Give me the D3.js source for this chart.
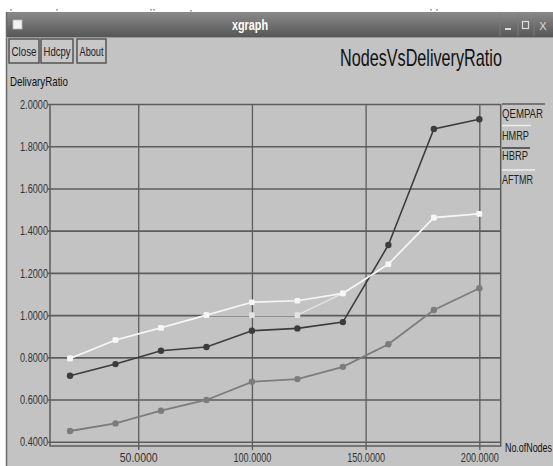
<!DOCTYPE html>
<html>
<head>
<meta charset="utf-8">
<script src="https://cdn.jsdelivr.net/npm/d3@7"></script>
<style>
  html, body { margin: 0; padding: 0; background: #ffffff; }
  svg { display: block; }
  text { font-family: "Liberation Sans", Arial, sans-serif; }
</style>
</head>
<body>
<svg id="chart" width="553" height="466"></svg>
<script>
// Number of nodes on the x axis
const nodes = [20, 40, 60, 80, 100, 120, 140, 160, 180, 200];

// Delivery ratio per protocol
const qempar = [0.451, 0.487, 0.547, 0.598, 0.684, 0.697, 0.755, 0.862, 1.024, 1.127];
const hmrp   = [0.795, 0.882, 0.940, 1.000, 1.061, 1.068, 1.103, 1.241, 1.462, 1.480];
const hbrp   = [0.713, 0.768, 0.831, 0.849, 0.926, 0.937, 0.967, 1.332, 1.882, 1.928];
const aftmr  = [0.795, 0.882, 0.940, 1.000, 1.000, 1.000, 1.103, 1.241, 1.462, 1.480];

const seriesNames = ["QEMPAR", "HMRP", "HBRP", "AFTMR"];
const yTicks = [0.4, 0.6, 0.8, 1.0, 1.2, 1.4, 1.6, 1.8, 2.0];
const xTicks = [50, 100, 150, 200];

const svg = d3.select("#chart");
const W = 553, H = 466;

// Draws a horizontally condensed label: the text is squeezed to the given width
// with a scale transform around its anchor point.
function narrowText(parent, str, px, py, size, width, opts = {}) {
  const t = parent.append("text")
    .attr("x", 0).attr("y", 0)
    .attr("font-size", size)
    .attr("fill", opts.fill || "#111111")
    .attr("text-anchor", opts.anchor || "start")
    .attr("font-weight", opts.weight || "normal")
    .text(str);
  const natural = t.node().getComputedTextLength();
  const k = natural > 0 ? width / natural : 1;
  t.attr("transform", `translate(${px},${py}) scale(${k},1)`);
  return t;
}

// squeeze the existing tick labels of an axis group to a given width
function narrowTicks(g, width) {
  g.selectAll(".tick text").each(function () {
    const t = d3.select(this);
    const natural = this.getComputedTextLength();
    const k = width / natural;
    const tx = +t.attr("x") || 0;
    t.attr("x", tx / k).attr("transform", `scale(${k},1)`);
  });
}

// ---- window frame ----
svg.append("rect").attr("x", 0).attr("y", 0).attr("width", W).attr("height", H).attr("fill", "#ffffff");
// faint specks above the window
[[10, 9], [56, 9], [150, 9], [153, 9], [190, 10], [430, 9], [436, 9]].forEach(([px, py]) => {
  svg.append("rect").attr("x", px).attr("y", py).attr("width", 2).attr("height", 1.5).attr("fill", "#a5a5a5");
});

const grad = svg.append("defs").append("linearGradient")
  .attr("id", "titlebar").attr("x1", 0).attr("y1", 0).attr("x2", 0).attr("y2", 1);
grad.append("stop").attr("offset", "0%").attr("stop-color", "#8a8a8a");
grad.append("stop").attr("offset", "100%").attr("stop-color", "#575757");

svg.append("rect").attr("x", 6).attr("y", 12).attr("width", W - 6).attr("height", 25).attr("fill", "url(#titlebar)");
svg.append("rect").attr("x", 6).attr("y", 37).attr("width", W - 6).attr("height", H - 37).attr("fill", "#c3c3c3");
svg.append("line").attr("x1", 6.5).attr("x2", 6.5).attr("y1", 12).attr("y2", H).attr("stroke", "#6a6a6a").attr("stroke-width", 1.5);
svg.append("line").attr("x1", 6).attr("x2", W).attr("y1", 37.5).attr("y2", 37.5).attr("stroke", "#9a9a9a");

// title bar icon and caption
svg.append("rect").attr("x", 13).attr("y", 20).attr("width", 9).attr("height", 9)
  .attr("fill", "#f2f2f2").attr("stroke", "#bbbbbb").attr("stroke-width", 0.8);
narrowText(svg, "xgraph", 250, 30, 14, 36, { anchor: "middle", weight: "bold", fill: "#ffffff" });

// window controls
[500, 518, 534].forEach(px => {
  svg.append("line").attr("x1", px).attr("x2", px).attr("y1", 13).attr("y2", 36).attr("stroke", "#7a7a7a");
});
svg.append("rect").attr("x", 505).attr("y", 28).attr("width", 6).attr("height", 2).attr("fill", "#dddddd");
svg.append("rect").attr("x", 522.5).attr("y", 21.5).attr("width", 6).attr("height", 7).attr("fill", "none").attr("stroke", "#dddddd").attr("stroke-width", 1.2);
svg.append("text").attr("x", 543).attr("y", 30).attr("text-anchor", "middle").attr("font-size", 11)
  .attr("fill", "#dddddd").text("X");

// buttons
const buttons = [{ t: "Close", x: 9, w: 30 }, { t: "Hdcpy", x: 41, w: 32 }, { t: "About", x: 77, w: 29 }];
buttons.forEach(b => {
  svg.append("rect").attr("x", b.x).attr("y", 39).attr("width", b.w).attr("height", 24)
    .attr("fill", "#c8c8c8").attr("stroke", "#555555").attr("stroke-width", 1.5);
  narrowText(svg, b.t, b.x + b.w / 2, 56, 12.5, b.w - 5, { anchor: "middle", fill: "#222222" });
});

// chart title and axis captions
narrowText(svg, "NodesVsDeliveryRatio", 340, 66, 23, 162);
narrowText(svg, "DelivaryRatio", 10, 86, 13, 58);
narrowText(svg, "No.ofNodes", 505, 452, 13, 47);

// ---- plot ----
const plotLeft = 50, plotRight = 500.7, plotTop = 104, plotBottom = 446;
const x = d3.scaleLinear().domain([11.2, 209.4]).range([plotLeft, plotRight]);
const y = d3.scaleLinear().domain([0.38, 2.0]).range([plotBottom, plotTop]);
const fmt = d3.format(".4f");
const gridColor = "#5c5c5c";

// horizontal grid lines with y tick labels
const yAxis = d3.axisLeft(y).tickValues(yTicks).tickFormat(fmt)
  .tickSizeInner(-(plotRight - plotLeft)).tickSizeOuter(0).tickPadding(2);
const gy = svg.append("g").attr("transform", `translate(${plotLeft},0)`).call(yAxis);
gy.select(".domain").remove();
gy.selectAll(".tick line").attr("stroke", gridColor).attr("stroke-width", 1.6).attr("x1", -2);
gy.selectAll(".tick text").attr("font-size", 13).attr("fill", "#333333")
  .attr("font-family", "Liberation Sans, Arial, sans-serif");
narrowTicks(gy, 28);

// vertical grid lines with x tick labels
const xAxis = d3.axisBottom(x).tickValues(xTicks).tickFormat(fmt)
  .tickSizeInner(-(plotBottom - plotTop)).tickSizeOuter(0).tickPadding(7);
const gx = svg.append("g").attr("transform", `translate(0,${plotBottom})`).call(xAxis);
gx.select(".domain").remove();
gx.selectAll(".tick line").attr("stroke", gridColor).attr("stroke-width", 1.3).attr("y1", 4);
gx.selectAll(".tick text").attr("font-size", 12.5).attr("fill", "#333333")
  .attr("font-family", "Liberation Sans, Arial, sans-serif");
narrowTicks(gx, 38);

// plot frame (left, bottom, right)
svg.append("path")
  .attr("d", `M${plotLeft},${plotTop}V${plotBottom}H${plotRight}V${plotTop}`)
  .attr("fill", "none").attr("stroke", gridColor).attr("stroke-width", 1.5);

// ---- series ----
const series = [
  { name: seriesNames[3], values: aftmr,  color: "#e4e4e4", width: 1.3, marker: "square" },
  { name: seriesNames[0], values: qempar, color: "#7c7c7c", width: 1.8, marker: "circle" },
  { name: seriesNames[2], values: hbrp,   color: "#3c3c3c", width: 1.6, marker: "circle" },
  { name: seriesNames[1], values: hmrp,   color: "#f6f6f6", width: 1.6, marker: "square" }
];

const line = d3.line().x(d => x(d[0])).y(d => y(d[1]));

series.forEach(s => {
  const pts = nodes.map((n, i) => [n, s.values[i]]);
  const g = svg.append("g");
  g.append("path").attr("d", line(pts)).attr("fill", "none")
    .attr("stroke", s.color).attr("stroke-width", s.width);
  if (s.marker === "circle") {
    g.selectAll("circle").data(pts).join("circle")
      .attr("cx", d => x(d[0])).attr("cy", d => y(d[1])).attr("r", 3.2).attr("fill", s.color);
  } else {
    g.selectAll("rect").data(pts).join("rect")
      .attr("x", d => x(d[0]) - 2.8).attr("y", d => y(d[1]) - 2.8)
      .attr("width", 5.6).attr("height", 5.6).attr("rx", 1.2).attr("fill", s.color);
  }
});

// ---- legend: a line in the series colour above each name ----
const legend = [
  { name: seriesNames[0], color: "#5c5c5c", ly: 104,   ty: 118,   w: 41 },
  { name: seriesNames[1], color: "#eeeeee", ly: 125.5, ty: 140,   w: 27 },
  { name: seriesNames[2], color: "#3c3c3c", ly: 148,   ty: 160,   w: 26 },
  { name: seriesNames[3], color: "#eeeeee", ly: 170,   ty: 184,   w: 31 }
];
legend.forEach(l => {
  svg.append("line").attr("x1", 502).attr("x2", 502 + l.w + 2).attr("y1", l.ly).attr("y2", l.ly)
    .attr("stroke", l.color).attr("stroke-width", 1.5);
  narrowText(svg, l.name, 502, l.ty, 13, l.w, { fill: "#222222" });
});
</script>
</body>
</html>
